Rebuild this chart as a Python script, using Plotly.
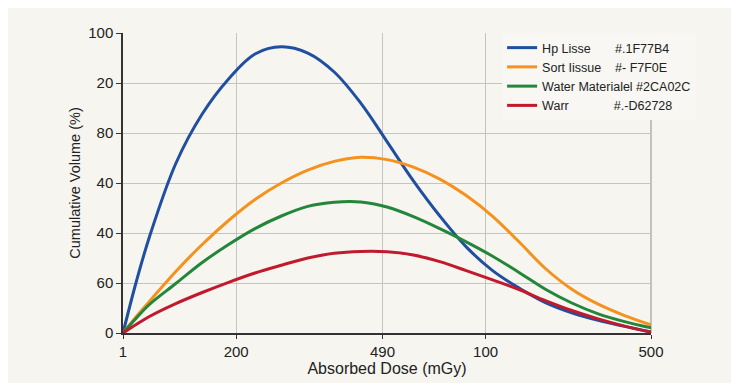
import plotly.graph_objects as go

# x positions along the dose axis (axis coordinate units)
dose_pos = [0, 12.5, 25, 50, 75, 100, 125, 150, 175, 200, 225, 250, 275, 300, 325, 350, 375, 400, 425, 450, 475, 500]

hp_lisse = [0, 17, 32, 56.5, 73, 84.7, 93, 95.4, 93.3, 87, 76.7, 63.8, 50.7, 39, 28.7, 20.8, 15, 10.1, 6.7, 4.2, 2.2, 0.3]
sort_tissue = [0, 5.4, 10.5, 20.5, 29.5, 37.5, 44.5, 50, 54.3, 57.2, 58.6, 57.8, 55.3, 51.3, 45.8, 38.9, 30.4, 21.5, 14.6, 9.6, 5.8, 2.7]
water_mat = [0, 4.9, 9.5, 16.5, 23.5, 29.5, 34.8, 39, 42.2, 43.6, 43.7, 42, 38.8, 34.8, 30.4, 25.6, 20.2, 14.6, 10, 6.4, 3.8, 1.7]
warr = [0, 2.8, 5.5, 9.8, 13.5, 16.9, 20, 22.6, 25, 26.6, 27.2, 27.1, 26, 23.8, 20.8, 17.7, 14.5, 10.8, 7.5, 4.7, 2.3, 0.3]

series_names = ["Hp Lisse", "Sort Iissue", "Water Materialel", "Warr"]
series_codes = ["#.1F77B4", "#- F7F0E", "#2CA02C", "#.-D62728"]
series_values = [hp_lisse, sort_tissue, water_mat, warr]
series_colors = ["#1f4f9e", "#f5921e", "#23863a", "#c01a2c"]

x_tick_pos = [0, 107.2, 245.7, 343.4, 500]
x_tick_labels = ["1", "200", "490", "100", "500"]
y_tick_pos = [0, 100/6, 200/6, 50, 400/6, 500/6, 100]
y_tick_labels = ["0", "60", "40", "40", "80", "20", "100"]

NB = "\u00a0"
pads = [7, 4, 1, 13]

fig = go.Figure()
for name, code, vals, col, p in zip(series_names, series_codes, series_values, series_colors, pads):
    fig.add_trace(go.Scatter(
        x=dose_pos, y=vals, mode="lines",
        name=name + NB * p + code,
        line=dict(color=col, width=3, shape="spline", smoothing=1.0),
    ))

FAM = "Liberation Sans, Arial, sans-serif"
axis_font = dict(family=FAM, size=15, color="#222222")
fig.update_layout(
    width=739, height=383,
    margin=dict(l=115, r=96, t=25, b=58),
    paper_bgcolor="#f6f5f0",
    plot_bgcolor="#f6f5f0",
    font=dict(family=FAM, size=13, color="#222222"),
    showlegend=True,
    legend=dict(
        x=0.718, y=1.0, xanchor="left", yanchor="top",
        bgcolor="#f8f7f3", borderwidth=0,
        font=dict(family=FAM, size=12.5, color="#222222"),
        itemwidth=30, tracegroupgap=0,
    ),
    xaxis=dict(
        range=[0, 500], tickvals=x_tick_pos, ticktext=x_tick_labels,
        showgrid=True, gridcolor="#c4c4c0", gridwidth=1,
        showline=True, linecolor="#333333", linewidth=1.5,
        ticks="outside", ticklen=4, tickcolor="#333333",
        tickfont=axis_font, zeroline=False,
        title=dict(text="Absorbed Dose (mGy)", font=dict(size=16, color="#222222"), standoff=4),
    ),
    yaxis=dict(
        range=[0, 100], tickvals=y_tick_pos, ticktext=y_tick_labels,
        showgrid=True, gridcolor="#c4c4c0", gridwidth=1,
        showline=True, linecolor="#333333", linewidth=1.5,
        ticks="outside", ticklen=5, tickcolor="#333333",
        tickfont=axis_font, zeroline=False,
        title=dict(text="Cumulative Volume (%)", font=dict(size=14.5, color="#222222"), standoff=4),
    ),
)
# right frame line
fig.add_shape(type="line", xref="paper", yref="paper", x0=1, x1=1, y0=0, y1=1,
              line=dict(color="#b0b0ac", width=1.5), layer="below")

fig.write_html("out.html")
